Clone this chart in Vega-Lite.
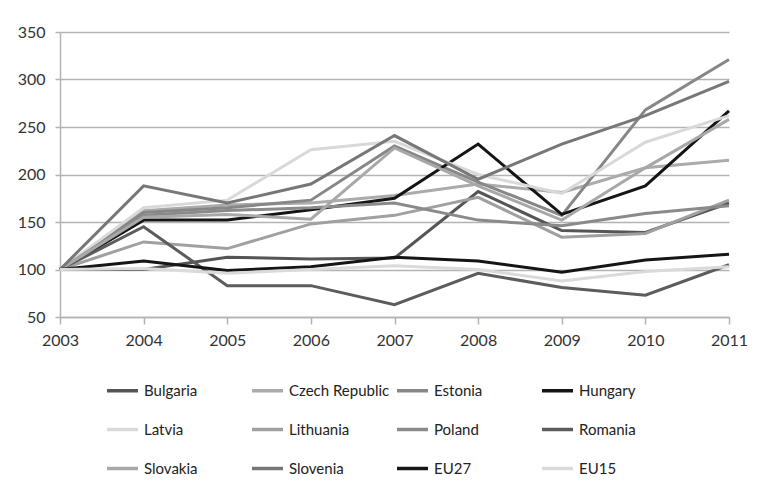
{
  "$schema": "https://vega.github.io/schema/vega-lite/v6.json",
  "width": 669,
  "height": 285,
  "autosize": {"type": "none"},
  "padding": {"left": 60, "top": 32, "right": 29, "bottom": 171},
  "background": "white",
  "config": {
    "view": {"stroke": null},
    "font": "Lato",
    "axis": {"labelFont": "Lato", "labelFontSize": 16, "labelColor": "#333", "titleFontSize": 0}
  },
  "data": {
    "values": [
      {"country": "Bulgaria", "year": 2003, "value": 100}, {"country": "Bulgaria", "year": 2004, "value": 100}, {"country": "Bulgaria", "year": 2005, "value": 113}, {"country": "Bulgaria", "year": 2006, "value": 111}, {"country": "Bulgaria", "year": 2007, "value": 112}, {"country": "Bulgaria", "year": 2008, "value": 182}, {"country": "Bulgaria", "year": 2009, "value": 141}, {"country": "Bulgaria", "year": 2010, "value": 139}, {"country": "Bulgaria", "year": 2011, "value": 170},
      {"country": "Czech Republic", "year": 2003, "value": 100}, {"country": "Czech Republic", "year": 2004, "value": 162}, {"country": "Czech Republic", "year": 2005, "value": 168}, {"country": "Czech Republic", "year": 2006, "value": 170}, {"country": "Czech Republic", "year": 2007, "value": 178}, {"country": "Czech Republic", "year": 2008, "value": 190}, {"country": "Czech Republic", "year": 2009, "value": 181}, {"country": "Czech Republic", "year": 2010, "value": 207}, {"country": "Czech Republic", "year": 2011, "value": 215},
      {"country": "Estonia", "year": 2003, "value": 100}, {"country": "Estonia", "year": 2004, "value": 160}, {"country": "Estonia", "year": 2005, "value": 165}, {"country": "Estonia", "year": 2006, "value": 173}, {"country": "Estonia", "year": 2007, "value": 230}, {"country": "Estonia", "year": 2008, "value": 192}, {"country": "Estonia", "year": 2009, "value": 157}, {"country": "Estonia", "year": 2010, "value": 268}, {"country": "Estonia", "year": 2011, "value": 321},
      {"country": "Hungary", "year": 2003, "value": 100}, {"country": "Hungary", "year": 2004, "value": 152}, {"country": "Hungary", "year": 2005, "value": 152}, {"country": "Hungary", "year": 2006, "value": 163}, {"country": "Hungary", "year": 2007, "value": 175}, {"country": "Hungary", "year": 2008, "value": 232}, {"country": "Hungary", "year": 2009, "value": 158}, {"country": "Hungary", "year": 2010, "value": 188}, {"country": "Hungary", "year": 2011, "value": 267},
      {"country": "Latvia", "year": 2003, "value": 100}, {"country": "Latvia", "year": 2004, "value": 165}, {"country": "Latvia", "year": 2005, "value": 173}, {"country": "Latvia", "year": 2006, "value": 226}, {"country": "Latvia", "year": 2007, "value": 235}, {"country": "Latvia", "year": 2008, "value": 200}, {"country": "Latvia", "year": 2009, "value": 180}, {"country": "Latvia", "year": 2010, "value": 234}, {"country": "Latvia", "year": 2011, "value": 262},
      {"country": "Lithuania", "year": 2003, "value": 100}, {"country": "Lithuania", "year": 2004, "value": 129}, {"country": "Lithuania", "year": 2005, "value": 122}, {"country": "Lithuania", "year": 2006, "value": 148}, {"country": "Lithuania", "year": 2007, "value": 157}, {"country": "Lithuania", "year": 2008, "value": 176}, {"country": "Lithuania", "year": 2009, "value": 134}, {"country": "Lithuania", "year": 2010, "value": 138}, {"country": "Lithuania", "year": 2011, "value": 173},
      {"country": "Poland", "year": 2003, "value": 100}, {"country": "Poland", "year": 2004, "value": 157}, {"country": "Poland", "year": 2005, "value": 162}, {"country": "Poland", "year": 2006, "value": 165}, {"country": "Poland", "year": 2007, "value": 170}, {"country": "Poland", "year": 2008, "value": 152}, {"country": "Poland", "year": 2009, "value": 146}, {"country": "Poland", "year": 2010, "value": 159}, {"country": "Poland", "year": 2011, "value": 167},
      {"country": "Romania", "year": 2003, "value": 100}, {"country": "Romania", "year": 2004, "value": 145}, {"country": "Romania", "year": 2005, "value": 83}, {"country": "Romania", "year": 2006, "value": 83}, {"country": "Romania", "year": 2007, "value": 63}, {"country": "Romania", "year": 2008, "value": 96}, {"country": "Romania", "year": 2009, "value": 81}, {"country": "Romania", "year": 2010, "value": 73}, {"country": "Romania", "year": 2011, "value": 105},
      {"country": "Slovakia", "year": 2003, "value": 100}, {"country": "Slovakia", "year": 2004, "value": 155}, {"country": "Slovakia", "year": 2005, "value": 158}, {"country": "Slovakia", "year": 2006, "value": 153}, {"country": "Slovakia", "year": 2007, "value": 228}, {"country": "Slovakia", "year": 2008, "value": 188}, {"country": "Slovakia", "year": 2009, "value": 152}, {"country": "Slovakia", "year": 2010, "value": 207}, {"country": "Slovakia", "year": 2011, "value": 258},
      {"country": "Slovenia", "year": 2003, "value": 100}, {"country": "Slovenia", "year": 2004, "value": 188}, {"country": "Slovenia", "year": 2005, "value": 170}, {"country": "Slovenia", "year": 2006, "value": 190}, {"country": "Slovenia", "year": 2007, "value": 241}, {"country": "Slovenia", "year": 2008, "value": 195}, {"country": "Slovenia", "year": 2009, "value": 232}, {"country": "Slovenia", "year": 2010, "value": 262}, {"country": "Slovenia", "year": 2011, "value": 298},
      {"country": "EU27", "year": 2003, "value": 100}, {"country": "EU27", "year": 2004, "value": 109}, {"country": "EU27", "year": 2005, "value": 99}, {"country": "EU27", "year": 2006, "value": 103}, {"country": "EU27", "year": 2007, "value": 113}, {"country": "EU27", "year": 2008, "value": 109}, {"country": "EU27", "year": 2009, "value": 97}, {"country": "EU27", "year": 2010, "value": 110}, {"country": "EU27", "year": 2011, "value": 116},
      {"country": "EU15", "year": 2003, "value": 100}, {"country": "EU15", "year": 2004, "value": 101}, {"country": "EU15", "year": 2005, "value": 96}, {"country": "EU15", "year": 2006, "value": 100}, {"country": "EU15", "year": 2007, "value": 104}, {"country": "EU15", "year": 2008, "value": 100}, {"country": "EU15", "year": 2009, "value": 88}, {"country": "EU15", "year": 2010, "value": 98}, {"country": "EU15", "year": 2011, "value": 103}
    ]
  },
  "mark": {"type": "line", "strokeWidth": 3, "strokeJoin": "miter", "clip": false},
  "encoding": {
    "x": {
      "field": "year", "type": "quantitative",
      "scale": {"domain": [2003, 2011], "nice": false, "zero": false},
      "axis": {
        "title": null, "format": "d", "values": [2003, 2004, 2005, 2006, 2007, 2008, 2009, 2010, 2011],
        "grid": false, "domainColor": "#b3b3b3", "domainWidth": 1.5,
        "tickColor": "#b3b3b3", "tickSize": 7, "tickWidth": 1.5, "labelPadding": 8, "labelFlush": false
      }
    },
    "y": {
      "field": "value", "type": "quantitative",
      "scale": {"domain": [50, 350], "nice": false, "zero": false},
      "axis": {
        "title": null, "values": [50, 100, 150, 200, 250, 300, 350],
        "grid": true, "gridColor": "#b3b3b3", "gridWidth": 1.5,
        "domainColor": "#b3b3b3", "domainWidth": 1.5,
        "tickColor": "#b3b3b3", "tickSize": 5, "tickWidth": 1.5, "labelPadding": 10
      }
    },
    "color": {
      "field": "country", "type": "nominal",
      "scale": {
        "domain": ["Bulgaria", "Czech Republic", "Estonia", "Hungary", "Latvia", "Lithuania", "Poland", "Romania", "Slovakia", "Slovenia", "EU27", "EU15"],
        "range": ["#555555", "#ababab", "#878787", "#151515", "#d9d9d9", "#a0a0a0", "#8a8a8a", "#5c5c5c", "#a8a8a8", "#777777", "#151515", "#dadada"]
      },
      "legend": {
        "title": null, "orient": "none", "legendX": 45, "legendY": 341,
        "direction": "horizontal", "columns": 4, "gridAlign": "all",
        "symbolType": "stroke", "symbolSize": 961, "symbolStrokeWidth": 3.5,
        "labelFont": "Lato", "labelFontSize": 15, "labelColor": "#222", "labelOffset": 4,
        "columnPadding": 0, "rowPadding": 13, "labelLimit": 200
      }
    }
  }
}
